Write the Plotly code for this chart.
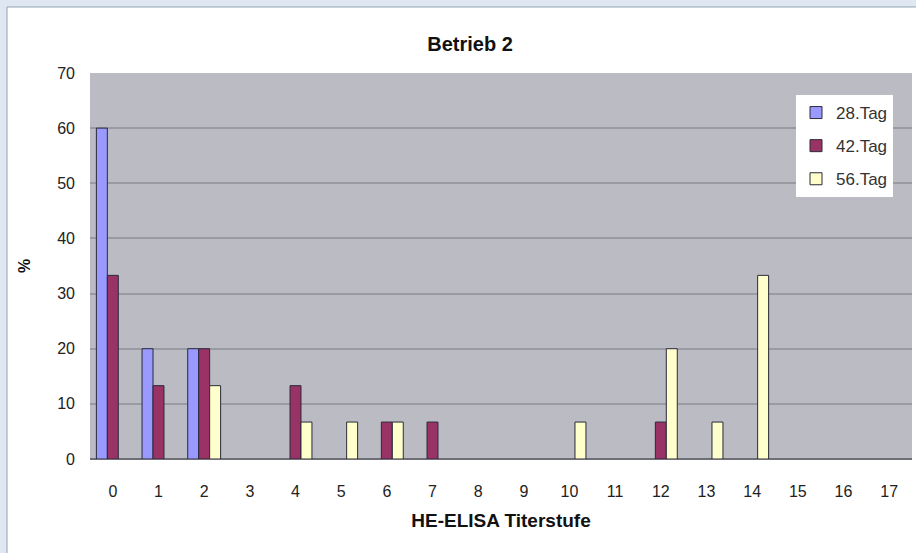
import plotly.graph_objects as go

categories = [str(i) for i in range(18)]
tag28 = [60, 20, 20, 0, 0, 0, 0, 0, 0, 0, 0, 0, 0, 0, 0, 0, 0, 0]
tag42 = [33.3, 13.3, 20, 0, 13.3, 0, 6.7, 6.7, 0, 0, 0, 0, 6.7, 0, 0, 0, 0, 0]
tag56 = [0, 0, 13.3, 0, 6.7, 6.7, 6.7, 0, 0, 0, 6.7, 0, 20, 6.7, 33.3, 0, 0, 0]
series_names = ["28.Tag", "42.Tag", "56.Tag"]
series_colors = ["#9999ff", "#993366", "#ffffcc"]
y_ticks = [0, 10, 20, 30, 40, 50, 60, 70]

W, H = 916, 553
L, R, T, B = 90, 4, 73, 94
PW, PH = W - L - R, H - T - B
FONT = "Liberation Sans, Arial, sans-serif"

fig = go.Figure()
for i, (name, vals, col) in enumerate(zip(series_names, [tag28, tag42, tag56], series_colors)):
    fig.add_trace(go.Bar(
        x=categories, y=[v if v else None for v in vals], name=name,
        legendgroup=f"g{i}",
        marker=dict(color=col, line=dict(color="#2a2a3a", width=1)),
    ))

# blue outer frame strips (left and top), outside the plot area
shapes = [
    dict(type="rect", xref="paper", yref="paper",
         x0=-L / PW, x1=(7 - L) / PW, y0=-B / PH, y1=1 + T / PH,
         fillcolor="#dfe8f2", line=dict(width=0), layer="above"),
    dict(type="rect", xref="paper", yref="paper",
         x0=-L / PW, x1=1 + R / PW, y0=1 + (T - 7) / PH, y1=1 + T / PH,
         fillcolor="#dfe8f2", line=dict(width=0), layer="above"),
    dict(type="line", xref="paper", yref="paper",
         x0=(7 - L) / PW, x1=(7 - L) / PW, y0=-B / PH, y1=1 + (T - 7) / PH,
         line=dict(color="#8fa3b8", width=1), layer="above"),
    dict(type="line", xref="paper", yref="paper",
         x0=(7 - L) / PW, x1=1 + R / PW, y0=1 + (T - 7) / PH, y1=1 + (T - 7) / PH,
         line=dict(color="#8fa3b8", width=1), layer="above"),
]

fig.update_layout(
    width=W, height=H,
    margin=dict(l=L, r=R, t=T, b=B, pad=0),
    paper_bgcolor="#ffffff",
    plot_bgcolor="#bbbbc3",
    barmode="group", bargap=0.28, bargroupgap=0,
    font=dict(family=FONT, color="#222222", size=16),
    title=dict(text="<b>Betrieb 2</b>", x=470 / W, xanchor="center",
               y=1 - 44 / H, yanchor="middle", font=dict(size=20, color="#111111")),
    showlegend=True,
    legend=dict(x=(796 - L) / PW, y=1 - (95 - T) / PH, xref="paper", yref="paper",
                xanchor="left", yanchor="top",
                bgcolor="#ffffff", borderwidth=0, font=dict(size=17, color="#333333"),
                itemwidth=30, tracegroupgap=8, traceorder="grouped"),
    shapes=shapes,
)

fig.update_xaxes(
    type="category", range=[-0.5, 17.5],
    ticks="", showline=False, showgrid=False,
    ticklabelstandoff=21,
    tickfont=dict(size=16, color="#222222"),
    title=dict(text="<b>HE-ELISA Titerstufe</b>", font=dict(size=19, color="#111111"), standoff=14),
)
fig.update_yaxes(
    range=[0, 70], tickvals=y_ticks, showgrid=True, gridcolor="#9a9aa2", gridwidth=2,
    zeroline=True, zerolinecolor="#6e6e76", zerolinewidth=2,
    showline=False, ticks="", ticklen=0,
    ticklabelstandoff=14,
    tickfont=dict(size=16, color="#222222"),
    title=dict(text="<b>%</b>", font=dict(size=16, color="#111111"), standoff=22),
)

fig.write_html("out.html", config={"displayModeBar": False},
               post_script="document.body.style.margin='0';document.body.style.overflow='hidden';")
